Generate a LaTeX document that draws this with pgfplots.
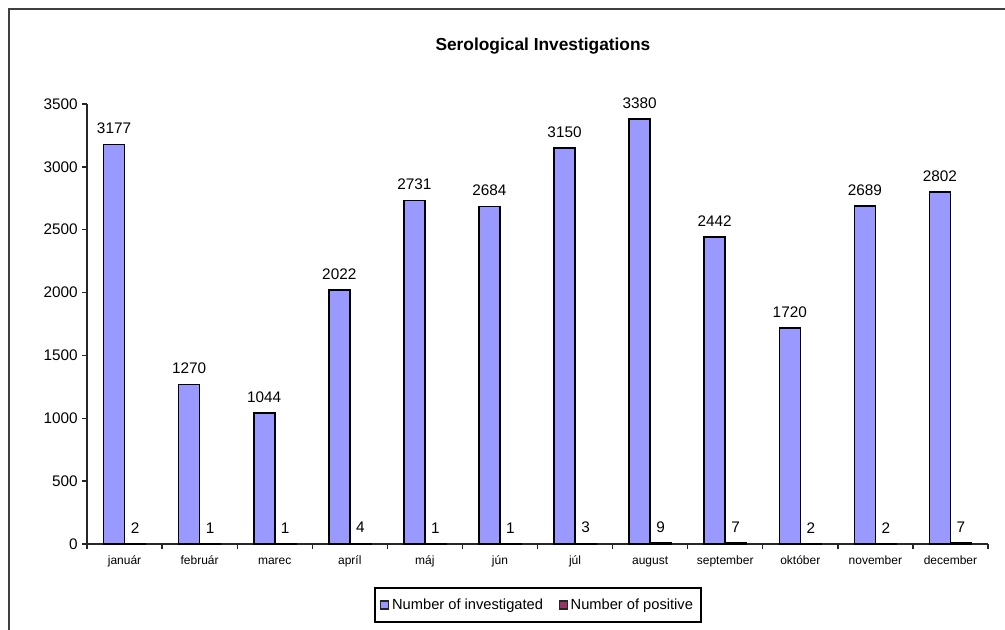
\documentclass[border=0pt]{standalone}
\usepackage{fontspec}
\setmainfont{Liberation Sans}
\usepackage{pgfplots}
\pgfplotsset{compat=1.18}
\definecolor{invest}{HTML}{9999FF}
\definecolor{posit}{HTML}{993366}

\begin{document}
\begin{tikzpicture}
\useasboundingbox (0,0) rectangle (753.75pt,471.75pt);
% outer chart frame, cut by the page edge
\begin{scope}
  \clip (0,0) rectangle (753.75pt,471.75pt);
  \draw[line width=1.5pt, black!75] (7.1pt,-20pt) rectangle (790pt,465pt);
\end{scope}
\begin{axis}[
  at={(65.25pt,63.75pt)}, anchor=south west,
  scale only axis, width=675.75pt, height=330pt,
  xmin=-0.5, xmax=11.5, ymin=0, ymax=3500,
  axis x line*=bottom, axis y line*=left,
  axis line style={line width=1.1pt, black!85},
  tick align=outside,
  major tick length=3.5pt, minor tick length=4pt,
  ytick={0,500,...,3500},
  xtick={0,...,11},
  xticklabels={január,február,marec,apríl,máj,jún,júl,august,september,október,november,december},
  minor xtick={-0.5,0.5,...,11.5},
  major x tick style={draw=none},
  minor x tick style={line width=1pt, black!85},
  ytick style={line width=1pt, black!85},
  x tick label style={font=\fontsize{9}{10}\selectfont, text height=7pt, text depth=2pt, yshift=-1pt},
  y tick label style={font=\fontsize{11.5}{12}\selectfont},
  /pgf/number format/assume math mode=true,
  /pgf/number format/1000 sep={},
  scaled y ticks=false,
  title={\textbf{Serological Investigations}},
  title style={font=\fontsize{13}{14}\selectfont, at={(0.506,1.113)}, anchor=center, yshift=0pt},
  ybar, bar width=15.75pt,
  nodes near coords,
  every node near coord/.append style={font=\fontsize{11.5}{12}\selectfont, black, yshift=4pt},
  legend columns=2,
  legend style={at={(0.5006,-0.1386)}, anchor=center, draw=black, line width=1pt,
    font=\fontsize{11}{12}\selectfont, inner xsep=4pt, inner ysep=6pt,
    /tikz/every even column/.append style={column sep=10pt}},
  legend image code/.code={\draw[#1, draw=black!85, line width=0.8pt] (0pt,-3pt) rectangle (6pt,3pt);},
]
\addplot[fill=invest, draw=black, line width=1.2pt, bar shift=-7.875pt] coordinates {
  (0,3177) (1,1270) (2,1044) (3,2022) (4,2731) (5,2684)
  (6,3150) (7,3380) (8,2442) (9,1720) (10,2689) (11,2802)
};
\addplot[fill=posit, draw=black, line width=1.2pt, bar shift=7.875pt] coordinates {
  (0,2) (1,1) (2,1) (3,4) (4,1) (5,1)
  (6,3) (7,9) (8,7) (9,2) (10,2) (11,7)
};
\legend{Number of investigated, Number of positive}
\end{axis}
\end{tikzpicture}
\end{document}
